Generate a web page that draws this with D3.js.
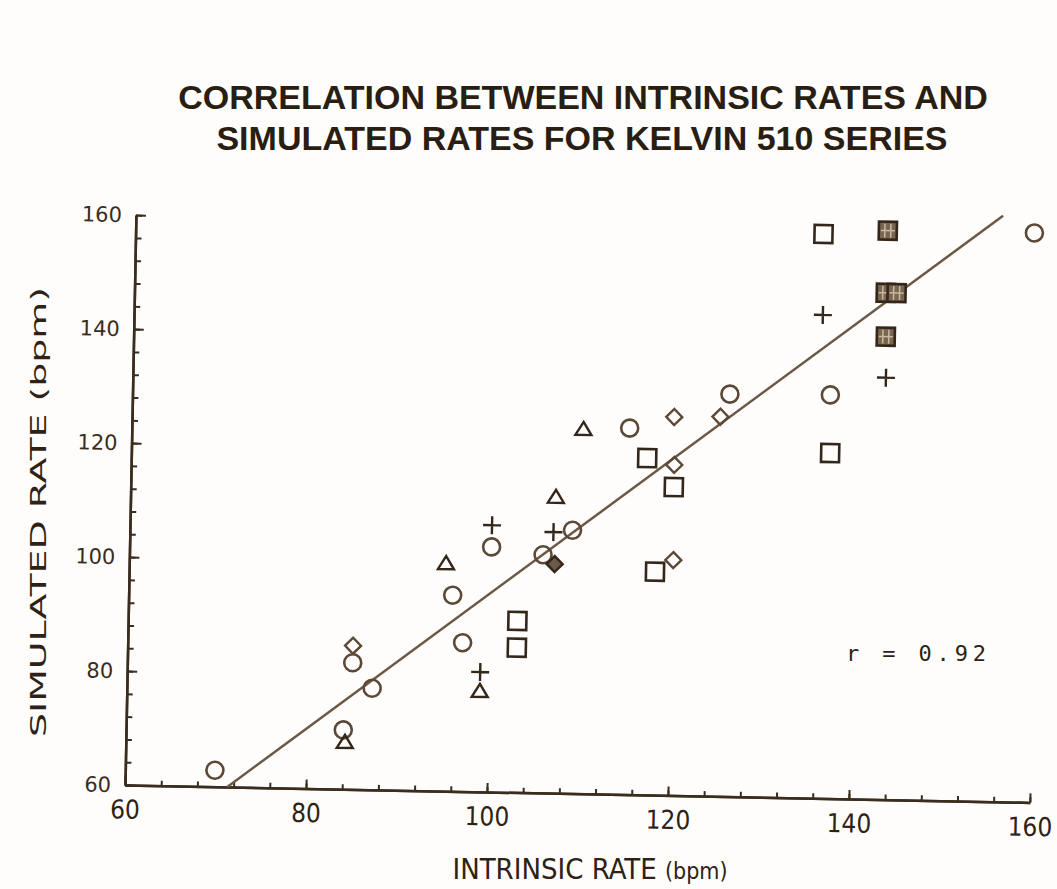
<!DOCTYPE html>
<html>
<head>
<meta charset="utf-8">
<script src="https://cdn.jsdelivr.net/npm/d3@7"></script>
<style>
  body { margin: 0; background: #fefdfb; }
  svg { display: block; }
  .tick line { stroke: #3a2c1e; stroke-width: 2; }
  .domain { stroke: #3a2c1e; stroke-width: 2.5; }
</style>
</head>
<body>
<div id="chart"></div>
<script>
// values (x = intrinsic rate, y = simulated rate, bpm)
var circlePts   = [[69.9, 62.9], [84.9, 82.2], [87.1, 77.8], [84.0, 70.4], [100.0, 103.0], [95.8, 94.4],
                   [97.0, 86.1], [108.9, 106.2], [105.7, 101.8], [115.0, 124.3], [126.0, 130.6],
                   [137.1, 130.8], [159.3, 159.9]];
var trianglePts = [[84.2, 68.3], [95.0, 100.0], [99.0, 77.7], [107.0, 112.0], [109.9, 124.0]];
var diamondPts  = [[84.9, 85.2], [119.9, 126.4], [125.0, 126.6], [120.0, 118.0], [120.1, 101.3]];
var filledDiamondPts = [[107.0, 100.2]];
var squarePts   = [[103.0, 90.1], [103.0, 85.4], [117.0, 119.1], [120.0, 114.1], [118.1, 99.2],
                   [136.0, 159.0], [137.2, 120.6]];
var gridSquarePts = [[143.1, 159.8], [143.0, 148.9], [144.2, 148.9], [143.1, 141.2]];
var plusPts     = [[100.0, 106.8], [106.8, 105.8], [99.0, 81.0], [136.1, 144.8], [143.2, 134.0]];
var fitLineX = [71.3, 155.8];
var fitLineY = [60, 162.8];
var majorTicks = [60, 80, 100, 120, 140, 160];
var titleLines = ['CORRELATION BETWEEN INTRINSIC RATES AND', 'SIMULATED RATES FOR KELVIN 510 SERIES'];

var W = 1057, H = 889;
var ink = '#33261a', soft = '#5c4836';

var svg = d3.select('#chart').append('svg')
    .attr('width', W).attr('height', H);

svg.append('rect').attr('width', W).attr('height', H).attr('fill', '#fefdfb');

// title
svg.selectAll('text.title')
    .data(titleLines)
    .enter().append('text')
    .attr('class', 'title')
    .attr('x', function (d, i) { return i === 0 ? 583 : 582; })
    .attr('y', function (d, i) { return i === 0 ? 109 : 150; })
    .attr('text-anchor', 'middle')
    .style('font-family', '"Liberation Sans Narrow", "Liberation Sans", sans-serif')
    .style('font-weight', 'bold')
    .style('font-size', '34px')
    .style('fill', '#2a1d12')
    .text(function (d) { return d; });

// plot frame, slightly rotated like the scan
var plot = svg.append('g')
    .attr('transform', 'translate(125,785) rotate(1.1)');

var x = d3.scaleLinear().domain([60, 160]).range([0, 905]);
var y = d3.scaleLinear().domain([60, 160]).range([0, -570]);
var minorTicks = d3.range(60, 161, 4);

plot.append('g')
    .call(d3.axisBottom(x).tickValues(minorTicks).tickSize(-5).tickSizeOuter(0).tickFormat(''));
var xAx = plot.append('g')
    .call(d3.axisBottom(x).tickValues(majorTicks).tickSize(-9).tickSizeOuter(0).tickPadding(15));
xAx.selectAll('text')
    .style('font-family', '"Liberation Sans Narrow", "DejaVu Sans Condensed", sans-serif')
    .style('font-size', '26px')
    .style('fill', '#2e2216');

plot.append('g')
    .call(d3.axisLeft(y).tickValues(minorTicks).tickSize(-6).tickSizeOuter(0).tickFormat(''));
var yAx = plot.append('g')
    .call(d3.axisLeft(y).tickValues(majorTicks).tickSize(-10).tickSizeOuter(0).tickPadding(14));
yAx.selectAll('text')
    .style('font-family', '"DejaVu Sans", sans-serif')
    .style('font-size', '21px')
    .style('fill', '#3a2c1e');

// regression line
plot.append('line')
    .attr('x1', x(fitLineX[0])).attr('y1', y(fitLineY[0]))
    .attr('x2', x(fitLineX[1])).attr('y2', y(fitLineY[1]))
    .attr('stroke', '#6b5845').attr('stroke-width', 2.5);

function place(d) { return 'translate(' + x(d[0]) + ',' + y(d[1]) + ')'; }

plot.selectAll('circle.pt').data(circlePts).enter().append('circle')
    .attr('class', 'pt')
    .attr('transform', place).attr('r', 8.5)
    .attr('fill', 'none').attr('stroke', soft).attr('stroke-width', 2.6);

plot.selectAll('path.tri').data(trianglePts).enter().append('path')
    .attr('class', 'tri')
    .attr('transform', place)
    .attr('d', 'M0,-7 L8,6 L-8,6 Z')
    .attr('fill', 'none').attr('stroke', ink).attr('stroke-width', 2.4);

plot.selectAll('path.dia').data(diamondPts).enter().append('path')
    .attr('class', 'dia')
    .attr('transform', place)
    .attr('d', 'M0,-8 L8,0 L0,8 L-8,0 Z')
    .attr('fill', 'none').attr('stroke', soft).attr('stroke-width', 2.4);

plot.selectAll('path.fdia').data(filledDiamondPts).enter().append('path')
    .attr('class', 'fdia')
    .attr('transform', place)
    .attr('d', 'M0,-8 L8,0 L0,8 L-8,0 Z')
    .attr('fill', '#6b5a48').attr('stroke', ink).attr('stroke-width', 2.4);

plot.selectAll('rect.sq').data(squarePts).enter().append('rect')
    .attr('class', 'sq')
    .attr('transform', place)
    .attr('x', -9).attr('y', -9).attr('width', 18).attr('height', 18)
    .attr('fill', 'none').attr('stroke', ink).attr('stroke-width', 2.6);

var grid = plot.selectAll('g.gsq').data(gridSquarePts).enter().append('g')
    .attr('class', 'gsq')
    .attr('transform', place);
grid.append('rect')
    .attr('x', -9).attr('y', -9).attr('width', 18).attr('height', 18)
    .attr('fill', '#7a6650').attr('stroke', ink).attr('stroke-width', 2.6);
grid.append('path')
    .attr('d', 'M-3,-7 V7 M3,-7 V7 M-7,0 H7')
    .attr('stroke', '#c9b9a2').attr('stroke-width', 1.5);

plot.selectAll('path.plus').data(plusPts).enter().append('path')
    .attr('class', 'plus')
    .attr('transform', place)
    .attr('d', 'M-9,0 H9 M0,-9 V9')
    .attr('stroke', ink).attr('stroke-width', 2.4);

// correlation label
svg.append('text')
    .attr('x', 846).attr('y', 661)
    .attr('textLength', 140).attr('lengthAdjust', 'spacing')
    .style('font-family', '"DejaVu Sans Mono", monospace')
    .style('font-size', '22px')
    .style('fill', '#2e2216')
    .text('r = 0.92');

// axis titles
svg.append('text')
    .attr('x', 590).attr('y', 879)
    .attr('text-anchor', 'middle')
    .style('font-family', '"Liberation Sans Narrow", "DejaVu Sans Condensed", sans-serif')
    .style('font-size', '29px')
    .style('fill', '#2e2216')
    .text('INTRINSIC RATE ')
    .append('tspan').style('font-size', '23px').text('(bpm)');

svg.append('text')
    .attr('transform', 'translate(46,512) rotate(-90)')
    .attr('text-anchor', 'middle')
    .attr('textLength', 450).attr('lengthAdjust', 'spacingAndGlyphs')
    .style('font-family', '"DejaVu Sans", sans-serif')
    .style('font-size', '22px')
    .style('fill', '#2e2216')
    .text('SIMULATED RATE (bpm)');
</script>
</body>
</html>
